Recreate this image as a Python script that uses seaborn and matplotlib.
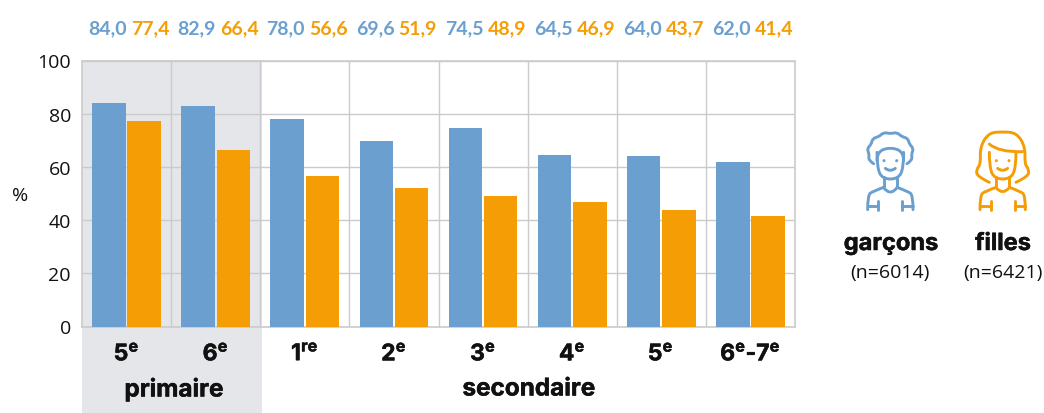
import matplotlib
matplotlib.use("Agg")
import matplotlib.patheffects as pe
import matplotlib.pyplot as plt
import numpy as np
from matplotlib.patches import Circle, PathPatch, Rectangle
from matplotlib.path import Path
from matplotlib.ticker import FixedLocator
import pandas as pd
import seaborn as sns

grades = ["5$^{\\mathbf{e}}$", "6$^{\\mathbf{e}}$", "1$^{\\mathbf{re}}$", "2$^{\\mathbf{e}}$",
          "3$^{\\mathbf{e}}$", "4$^{\\mathbf{e}}$", "5$^{\\mathbf{e}}$ ", "6$^{\\mathbf{e}}$-7$^{\\mathbf{e}}$"]
garcons = [84.0, 82.9, 78.0, 69.6, 74.5, 64.5, 64.0, 62.0]
filles = [77.4, 66.4, 56.6, 51.9, 48.9, 46.9, 43.7, 41.4]
y_ticks = [0, 20, 40, 60, 80, 100]

BLUE = "#6a9fcf"
ORANGE = "#f49d05"
GREY = "#e5e6ea"
LINE = "#cbcbcb"
INK = "#111111"
W, H = 1044, 414

sns.set_theme(style="white")
plt.rcParams["font.family"] = ["Open Sans", "DejaVu Sans"]
plt.rcParams["mathtext.fontset"] = "custom"
plt.rcParams["mathtext.bf"] = "Inter:bold"
plt.rcParams["mathtext.rm"] = "Inter"

df = pd.DataFrame({
    "grade": grades * 2,
    "value": garcons + filles,
    "sex": ["garcons"] * len(grades) + ["filles"] * len(grades),
})

fig = plt.figure(figsize=(W / 100, H / 100), dpi=100)
heavy = [pe.withStroke(linewidth=0.35, foreground=INK)]

# overlay in pixel coords for the band, icons and side text
bg = fig.add_axes([0, 0, 1, 1], zorder=0)
bg.set_xlim(0, W)
bg.set_ylim(H, 0)
bg.axis("off")
bg.add_patch(Rectangle((82, 61), 180, H - 61, color=GREY, lw=0))

ax = fig.add_axes([82 / W, (H - 327.5) / H, (795 - 82) / W, (327.5 - 61.5) / H], zorder=1)
ax.patch.set_alpha(0)
sns.barplot(data=df, x="grade", y="value", hue="sex", order=grades,
            palette=[BLUE, ORANGE], width=0.79, gap=0.05, saturation=1,
            linewidth=0, legend=False, ax=ax, zorder=3)
ax.set_xlim(-0.5, len(grades) - 0.5)
ax.set_ylim(0, 100)
ax.set_yticks(y_ticks)
ax.xaxis.set_minor_locator(FixedLocator([i + 0.5 for i in range(len(grades) - 1)]))
ax.grid(True, axis="y", color=LINE, lw=1, zorder=0)
ax.grid(True, axis="x", which="minor", color=LINE, lw=1, zorder=0)
ax.set_axisbelow(True)
for s in ax.spines.values():
    s.set_color(LINE)
    s.set_linewidth(1.2)
ax.tick_params(axis="x", which="both", length=0, pad=12)
ax.tick_params(axis="y", length=0, pad=8, labelsize=14, labelcolor=INK)
for lab in ax.get_xticklabels():
    lab.set_fontfamily(["Inter", "DejaVu Sans"])
    lab.set_fontweight("bold")
    lab.set_fontsize(16.5)
    lab.set_color(INK)
    lab.set_path_effects(heavy)
ax.set_xlabel("")
ax.set_ylabel("")

# value labels above the plot, with decimal commas
for i in range(len(grades)):
    for vals, col, off in ((garcons, BLUE, -0.24), (filles, ORANGE, 0.24)):
        ax.text(i + 0.027 + off, 1.122, f"{vals[i]:.1f}".replace(".", ","), color=col,
                transform=ax.get_xaxis_transform(), ha="center", va="center",
                fontsize=14, fontweight="bold", family=["Lato", "DejaVu Sans"], clip_on=False)

BOLD = dict(family=["Inter", "DejaVu Sans"], fontweight="bold", ha="center", va="center",
            color=INK, path_effects=heavy)
bg.text(20, 196, "%", fontsize=14, ha="center", va="center", color=INK)
bg.text(174, 390, "primaire", fontsize=17.5, **BOLD)
bg.text(529, 390, "secondaire", fontsize=17.5, **BOLD)
bg.text(891, 245, "garçons", fontsize=17, **BOLD)
bg.text(1003, 245, "filles", fontsize=17, **BOLD)
bg.text(890, 273, "(n=6014)", fontsize=14, ha="center", va="center", color=INK)
bg.text(1003, 273, "(n=6421)", fontsize=14, ha="center", va="center", color=INK)


def stroke(points, color, smooth=True):
    # points come from the 3x crop of the icon area
    pts = [(830 + x / 3, 120 + y / 3) for x, y in points]
    if smooth and len(pts) > 2:
        verts = [pts[0]]
        codes = [Path.MOVETO]
        for k in range(1, len(pts) - 1):
            end = pts[k + 1] if k == len(pts) - 2 else (
                (pts[k][0] + pts[k + 1][0]) / 2, (pts[k][1] + pts[k + 1][1]) / 2)
            verts += [pts[k], end]
            codes += [Path.CURVE3, Path.CURVE3]
    else:
        verts = pts
        codes = [Path.MOVETO] + [Path.LINETO] * (len(pts) - 1)
    bg.add_patch(PathPatch(Path(verts, codes), fill=False, edgecolor=color, lw=2.1,
                           capstyle="round", joinstyle="round"))


def body(cx, color):
    # shoulders, collar and arms are the same on both figures
    for sgn in (-1, 1):
        stroke([(cx + sgn * 20, 175), (cx + sgn * 20, 205)], color, smooth=False)
        stroke([(cx + sgn * 20, 205), (cx + sgn * 52, 217), (cx + sgn * 68, 228), (cx + sgn * 68, 272)], color)
        stroke([(cx + sgn * 36, 245), (cx + sgn * 36, 272)], color, smooth=False)
        stroke([(cx + sgn * 36, 262), (cx + sgn * 68, 262)], color, smooth=False)
        bg.add_patch(Circle((830 + (cx + sgn * 19) / 3, 120 + 125 / 3), 1.5, color=color, lw=0))
    stroke([(cx - 15, 148), (cx, 160), (cx + 15, 148)], color)
    stroke([(cx - 40, 100), (cx - 40, 145), (cx - 24, 180), (cx + 24, 180), (cx + 40, 145), (cx + 40, 100)], color)


# boy
body(181, BLUE)
# scalloped hair: bumps around the head from lower left to lower right
hair = []
for k, a in enumerate(np.radians(np.linspace(218, -38, 17))):
    r = 1.08 if k % 2 else 0.96
    hair.append((181 + 66 * r * np.cos(a), 100 - 58 * r * np.sin(a)))
stroke(hair, BLUE)
stroke([(141, 125), (141, 88), (221, 88), (221, 125)], BLUE)
stroke([(161, 206), (181, 232), (201, 206)], BLUE)

# girl
body(518, ORANGE)
stroke([(478, 190), (440, 172), (440, 150), (452, 135), (450, 85), (475, 42), (518, 38), (561, 42),
        (586, 85), (584, 135), (596, 150), (596, 172), (558, 190)], ORANGE)
stroke([(478, 75), (505, 100), (578, 98)], ORANGE)
stroke([(498, 206), (518, 230), (538, 206)], ORANGE)

fig.savefig("out.png", dpi=100)
